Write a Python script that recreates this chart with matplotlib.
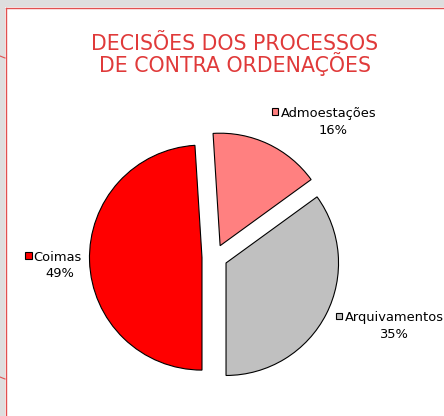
import matplotlib
matplotlib.use("Agg")
import matplotlib.pyplot as plt
from matplotlib.patches import Rectangle
from matplotlib.lines import Line2D

# Data
categories = ["Arquivamentos", "Admoestações", "Coimas"]
values = [35, 16, 49]
colors = ["#c0c0c0", "#ff8080", "#ff0000"]
title_lines = ["DECISÕES DOS PROCESSOS", "DE CONTRA ORDENAÇÕES"]

W, H = 444, 416
fig = plt.figure(figsize=(W / 100, H / 100), dpi=100, facecolor="#dedede")

# white chart area with red border
fig.patches.append(Rectangle((5 / W, 0), (W - 5) / W, (H - 7) / H, transform=fig.transFigure,
                             facecolor="white", edgecolor="none", zorder=-5))
fig.add_artist(Line2D([5.5 / W, 5.5 / W], [0, (H - 7.5) / H], transform=fig.transFigure,
                      color="#e05050", lw=1.0))
fig.add_artist(Line2D([5.5 / W, 1], [(H - 7.5) / H, (H - 7.5) / H], transform=fig.transFigure,
                      color="#e05050", lw=1.0))
for yy in (57, 378):
    fig.add_artist(Line2D([0, 5 / W], [(H - yy + 1) / H, (H - yy - 1) / H], transform=fig.transFigure,
                          color="#e05050", lw=0.8))

# pie geometry (pixels)
Ox, Oy, R = 214.7, 257.2, 112.5
ax = fig.add_axes([0, 0, 1, 1], zorder=1)
ax.set_facecolor("none")
wedges, _ = ax.pie(values, colors=colors, startangle=-90, counterclock=True,
                   explode=[0.113] * len(values),
                   wedgeprops=dict(edgecolor="black", linewidth=0.8))
ax.set_xlim(-Ox / R, (W - Ox) / R)
ax.set_ylim(-(H - Oy) / R, Oy / R)
ax.set_aspect("auto")
ax.axis("off")


def px(x, y):
    return (x / W, 1 - y / H)


title_color = "#e03a3a"
fig.text(*px(235, 50), title_lines[0], ha="center", va="baseline", color=title_color,
         fontsize=14.8, family="DejaVu Sans", zorder=5)
fig.text(*px(235, 72.3), title_lines[1], ha="center", va="baseline", color=title_color,
         fontsize=14.8, family="DejaVu Sans", zorder=5)

# labels: (square left x, square top y, text x, baseline1, pct center x, baseline2)
label_pos = {
    "Coimas": (25, 252.3, 33.5, 260.7, 59.7, 277.3),
    "Admoestações": (271.7, 108.5, 281, 117.3, 333.5, 134.3),
    "Arquivamentos": (335.7, 312.7, 344.5, 320.7, 393, 338.3),
}
for cat, val, col in zip(categories, values, colors):
    sx, sy, tx, b1, pcx, b2 = label_pos[cat]
    fig.patches.append(Rectangle(px(sx, sy + 6.6), 6.6 / W, 6.6 / H, transform=fig.transFigure,
                                 facecolor=col, edgecolor="black", linewidth=0.8, zorder=5))
    fig.text(*px(tx, b1), cat, ha="left", va="baseline", fontsize=9.4, color="black", zorder=5)
    fig.text(*px(pcx, b2), f"{val}%", ha="center", va="baseline", fontsize=9.4, color="black", zorder=5)

fig.savefig("out.png", dpi=100, facecolor=fig.get_facecolor())
